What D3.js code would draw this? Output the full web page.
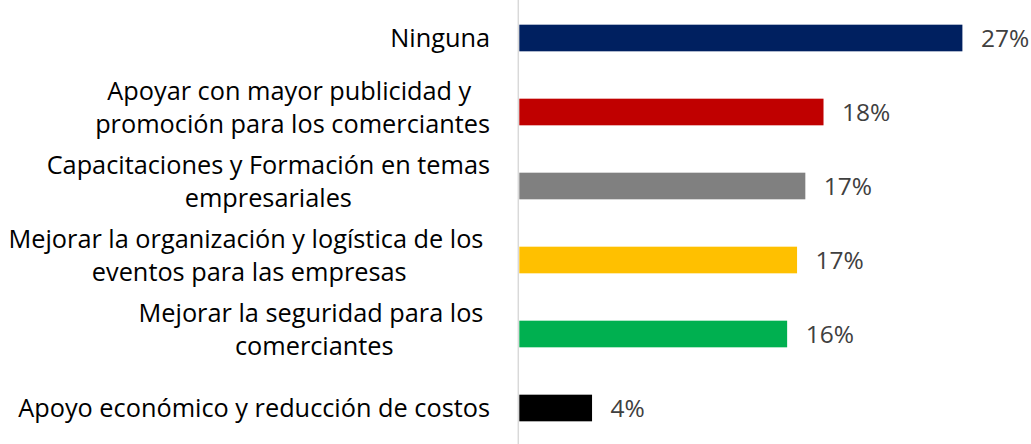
<!DOCTYPE html>
<html>
<head>
<meta charset="utf-8">
<script src="https://cdn.jsdelivr.net/npm/d3@7"></script>
<style>
  html, body { margin: 0; padding: 0; background: #fff; }
  svg { display: block; }
  text { font-family: "Open Sans", sans-serif; }
</style>
</head>
<body>
<svg></svg>
<script>
// chart size
const width = 1031,
  height = 444;

// data
const categories = [
  "Ninguna",
  "Apoyar con mayor publicidad y \npromoción para los comerciantes",
  "Capacitaciones y Formación en temas\nempresariales",
  "Mejorar la organización y logística de los \neventos para las empresas",
  "Mejorar la seguridad para los \ncomerciantes",
  "Apoyo económico y reducción de costos"
];
const values = [26.8, 18.4, 17.3, 16.8, 16.2, 4.4];
const barColors = ["#002060", "#C00000", "#808080", "#FFC000", "#00B050", "#000000"];

const svg = d3.select("svg")
  .attr("width", width)
  .attr("height", height);

const xScale = d3.scaleLinear().domain([0, 30]).range([519.3, 1015.3]);
const yScale = d3.scaleBand()
  .domain(categories)
  .range([1, 445])
  .paddingInner(0.64)
  .paddingOuter(0.32);

// vertical axis line
svg.append("line")
  .attr("x1", 518.3).attr("x2", 518.3)
  .attr("y1", 0).attr("y2", height)
  .attr("stroke", "#d9d9d9")
  .attr("stroke-width", 1.5);

// bars
svg.selectAll("rect.bar")
  .data(values)
  .join("rect")
  .attr("class", "bar")
  .attr("x", xScale(0))
  .attr("y", (d, i) => yScale(categories[i]))
  .attr("width", d => xScale(d) - xScale(0))
  .attr("height", yScale.bandwidth())
  .attr("fill", (d, i) => barColors[i]);

// value labels
svg.selectAll("text.val")
  .data(values)
  .join("text")
  .attr("class", "val")
  .attr("x", d => xScale(d) + 18.5)
  .attr("y", (d, i) => yScale(categories[i]) + yScale.bandwidth() / 2)
  .attr("dy", "0.36em")
  .attr("font-size", 24.5)
  .attr("fill", "#404040")
  .text(d => Math.round(d) + "%");

// category labels, wrapped lines centered within their block, block right-aligned
const labelRight = 490,
  lineHeight = 32.5;

categories.forEach((c, i) => {
  const lines = c.split("\n");
  const cy = yScale(c) + yScale.bandwidth() / 2 - (lines.length > 1 ? 4.5 : 0);
  const g = svg.append("text")
    .attr("font-size", 25.3)
    .attr("fill", "#000")
    .attr("text-anchor", "middle")
    .style("white-space", "pre");
  const spans = lines.map((l, j) => g.append("tspan")
    .attr("y", cy + (j - (lines.length - 1) / 2) * lineHeight)
    .attr("dy", "0.36em")
    .text(l));
  const maxW = d3.max(spans, s => s.node().getComputedTextLength());
  spans.forEach(s => s.attr("x", labelRight - maxW / 2));
});
</script>
</body>
</html>
